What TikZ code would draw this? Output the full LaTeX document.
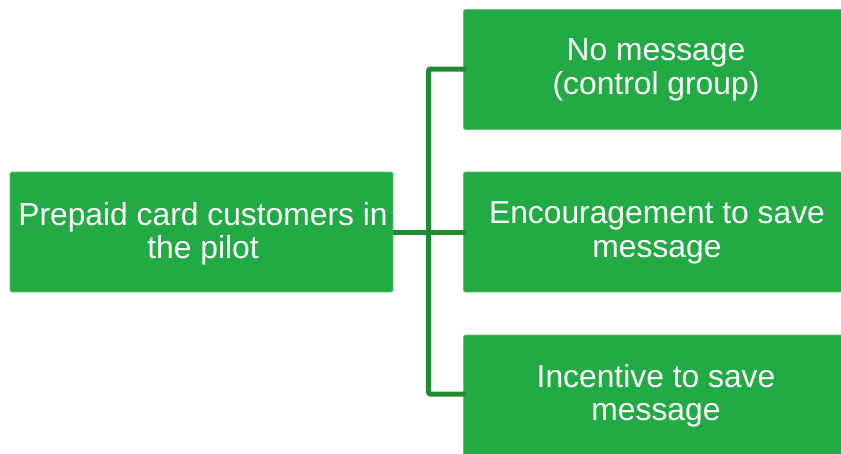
\documentclass[tikz,border=0pt]{standalone}
\usepackage{fontspec}
\setmainfont{Liberation Sans}
\definecolor{boxgreen}{RGB}{34,170,68}
\definecolor{linegreen}{RGB}{30,138,50}
\begin{document}
\begin{tikzpicture}[x=1pt,y=-1pt,
  gbox/.style={fill=boxgreen, draw=boxgreen!70!white, line width=0.6pt, rounded corners=2pt, anchor=north west, inner sep=0pt},
  gtext/.style={text=white, align=center, font=\fontsize{31.8}{33.5}\selectfont},
  conn/.style={draw=linegreen, line width=5pt, rounded corners=2pt}]
\useasboundingbox (0,0) rectangle (841,453);
\fill[white] (0,0) rectangle (841,453);
% boxes
\path[gbox] (10,172) rectangle (393,292);
\coordinate (L) at (393,232);
\path[gbox] (463.5,9.5) rectangle (850,129.5);
\path[gbox] (463.5,172) rectangle (850,292);
\path[gbox] (463.5,335) rectangle (850,456);
\coordinate (R1) at (466,69);
\coordinate (R2) at (466,232);
\coordinate (R3) at (466,394);
\coordinate (T1) at (428.5,69);
% connectors
\draw[conn] (R1) -- (T1) |- (R3);
\draw[conn, rounded corners=0pt] (L) -- (R2);
% texts
\node[gtext] (tl) at (203,234) {Prepaid card customers in\\the pilot};
\node[gtext] (t1) at (656,70) {No message\\(control group)};
\node[gtext] (t2) at (657,233) {Encouragement to save\\message};
\node[gtext] (t3) at (656,396) {Incentive to save\\message};
\end{tikzpicture}
\end{document}
